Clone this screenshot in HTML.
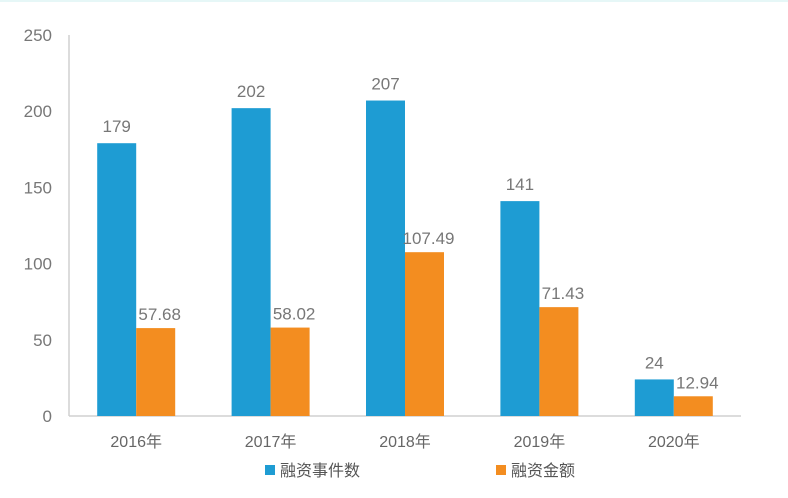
<!DOCTYPE html>
<html><head><meta charset="utf-8"><style>
body{margin:0;background:#fff;}
svg{display:block;font-family:"Liberation Sans","Noto Sans CJK SC",sans-serif;}
</style></head><body>
<svg width="788" height="498">
<rect x="0" y="0" width="788" height="2" fill="#e6f7f7"/>
<g id="g"></g>
</svg>
<script>
const categories=["2016年","2017年","2018年","2019年","2020年"];
const eventCounts=[179,202,207,141,24];
const amounts=[57.68,58.02,107.49,71.43,12.94];
const amountLabels=["57.68","58.02","107.49","71.43","12.94"];
const yTicks=[0,50,100,150,200,250];
const X0=69,X1=741,Y0=416,Y1=35,YMAX=250;
const y=v=>Y0-(v/YMAX)*(Y0-Y1);
const band=(X1-X0)/categories.length;
const cx=i=>X0+band*(i+0.5);
const BW=39;
const g=document.getElementById('g');
const NS='http://www.w3.org/2000/svg';
function mk(tag,attrs,text){const e=document.createElementNS(NS,tag);for(const k in attrs)e.setAttribute(k,attrs[k]);if(text!==undefined)e.textContent=text;g.appendChild(e);return e;}
let e=mk('line',{x1:X0,x2:X0,y1:Y1,y2:Y0,stroke:'#d0d0d0','stroke-width':1.5});


e=mk('line',{x1:X0,x2:X1,y1:Y0,y2:Y0,stroke:'#d0d0d0','stroke-width':1.5});


yTicks.forEach(t=>{
 const el=mk('text',{x:52,y:y(t)+6,'text-anchor':'end','font-size':17,fill:'#777'},String(t));
 
 
});
categories.forEach((c,i)=>{
 const bx=cx(i)-BW;
 let r=mk('rect',{x:bx,y:y(eventCounts[i]),width:BW,height:Y0-y(eventCounts[i]),fill:'#1e9cd3'});
 
 
 let t=mk('text',{x:bx+BW/2,y:y(eventCounts[i])-11,'text-anchor':'middle','font-size':17,fill:'#777'},String(eventCounts[i]));
 
 
 const ox=cx(i);
 r=mk('rect',{x:ox,y:y(amounts[i]),width:BW,height:Y0-y(amounts[i]),fill:'#f38d20'});
 
 
 t=mk('text',{x:ox+BW/2+4,y:y(amounts[i])-8,'text-anchor':'middle','font-size':17,fill:'#777'},amountLabels[i]);
 
 
 t=mk('text',{x:cx(i),y:Y0+31,'text-anchor':'middle','font-size':16,fill:'#666'},c);
 
 
});
e=mk('rect',{x:265,y:465,width:10,height:10,fill:'#1e9cd3'});


e=mk('text',{x:280,y:476,'font-size':16,fill:'#555'},'融资事件数');


e=mk('rect',{x:496,y:465,width:10,height:10,fill:'#f38d20'});


e=mk('text',{x:511,y:476,'font-size':16,fill:'#555'},'融资金额');


</script>
</body></html>
